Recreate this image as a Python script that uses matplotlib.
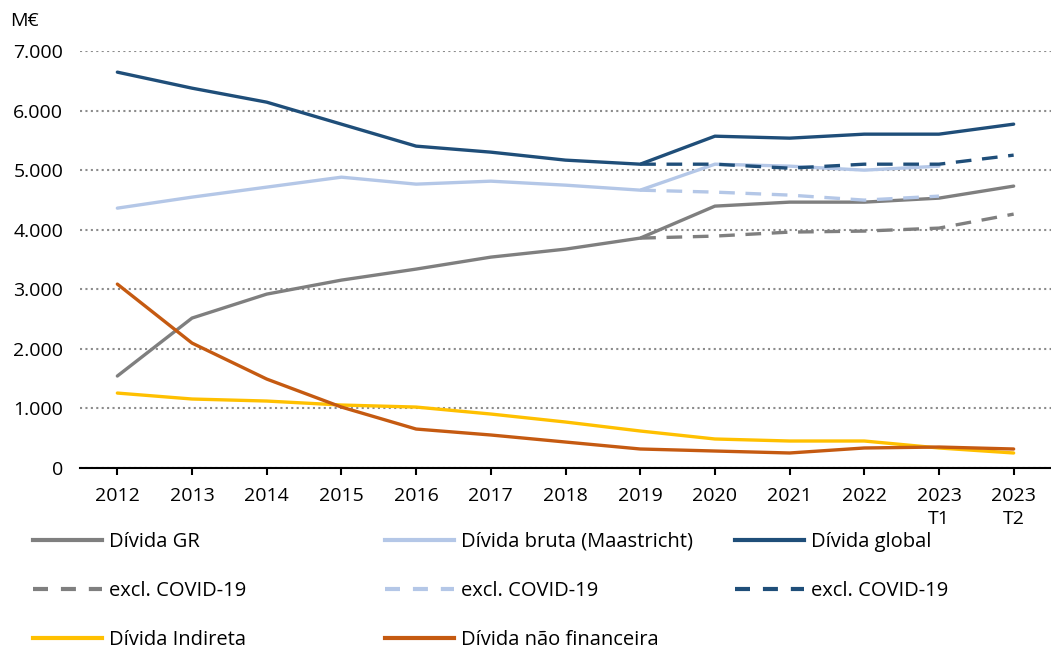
import numpy as np
import matplotlib.pyplot as plt
from matplotlib.lines import Line2D

plt.rcParams['font.family'] = ['Open Sans', 'DejaVu Sans']

categories = ["2012", "2013", "2014", "2015", "2016", "2017", "2018", "2019",
              "2020", "2021", "2022", "2023\nT1", "2023\nT2"]

divida_gr = [1544, 2517, 2919, 3154, 3339, 3540, 3674, 3859, 4396, 4463, 4463, 4530, 4732]
divida_bruta = [4362, 4547, 4715, 4882, 4765, 4815, 4748, 4664, 5100, 5067, 5000, 5067, None]
divida_global = [6645, 6376, 6141, 5772, 5403, 5302, 5168, 5100, 5570, 5537, 5604, 5604, 5772]
gr_excl = [None] * 7 + [3859, 3893, 3960, 3977, 4027, 4262]
bruta_excl = [None] * 7 + [4664, 4631, 4581, 4497, 4564, None]
global_excl = [None] * 7 + [5100, 5100, 5033, 5100, 5100, 5252]
divida_indireta = [1258, 1158, 1124, 1057, 1023, 906, 772, 621, 487, 453, 453, 336, 252]
divida_nao_fin = [3087, 2097, 1493, 1023, 654, 554, 436, 319, 285, 252, 336, 352, 319]

C_GR = "#7f7f7f"
C_BRUTA = "#b4c7e7"
C_GLOBAL = "#1f4e79"
C_IND = "#ffc000"
C_NF = "#c55a11"


def arr(v):
    return np.array([np.nan if x is None else x for x in v], dtype=float)


fig = plt.figure(figsize=(10.51, 6.5), dpi=100)
ax = fig.add_axes([80 / 1051, 1 - 468 / 650, 971 / 1051, (468 - 51) / 650])
x = np.arange(len(categories))
lw = 2.4
dash = (4.7, 3.2)

series = [
    ("Dívida GR", divida_gr, C_GR, None),
    ("excl. COVID-19", gr_excl, C_GR, dash),
    ("Dívida Indireta", divida_indireta, C_IND, None),
    ("Dívida bruta (Maastricht)", divida_bruta, C_BRUTA, None),
    ("excl. COVID-19", bruta_excl, C_BRUTA, dash),
    ("Dívida não financeira", divida_nao_fin, C_NF, None),
    ("Dívida global", divida_global, C_GLOBAL, None),
    ("excl. COVID-19", global_excl, C_GLOBAL, dash),
]

handles = []
for label, vals, color, ds in series:
    kw = dict(color=color, lw=lw, label=label, solid_capstyle="round")
    if ds is not None:
        kw.update(linestyle=(0, ds), dash_capstyle="butt")
    (h,) = ax.plot(x, arr(vals), **kw)
    handles.append(h)

ax.set_xlim(-0.5, len(categories) - 0.5)
ax.set_ylim(0, 7000)
ax.set_yticks(np.arange(0, 7001, 1000))
ax.set_yticklabels([f"{v:,}".replace(",", ".") for v in range(0, 7001, 1000)])
ax.set_xticks(x)
ax.set_xticklabels(categories, linespacing=1.3)
ax.tick_params(axis="y", length=0, pad=12, labelsize=14)
ax.tick_params(axis="x", length=5, width=1.5, pad=9, labelsize=14)
ax.yaxis.grid(True, linestyle=(0, (1, 1.6)), color="#8c8c8c", lw=1.5)
ax.set_axisbelow(True)
for s in ["top", "right", "left"]:
    ax.spines[s].set_visible(False)
ax.spines["bottom"].set_linewidth(1.5)
ax.spines["bottom"].set_zorder(5)

fig.text(10 / 1051, 1 - 21 / 650, "M€", fontsize=14, va="center", ha="left")

# legend: 3 columns x 3 rows
col_x = [33, 385, 735]
row_y = [542, 591, 640]
order = [[0, 3, 6], [1, 4, 7], [2, 5]]
for r, row in enumerate(order):
    for c, idx in enumerate(row):
        h = handles[idx]
        ls = (0, (3.6, 3.1)) if h.get_linestyle() != "-" else "-"
        proxy = Line2D([], [], color=h.get_color(), lw=3.0, linestyle=ls,
                       dash_capstyle="butt")
        fig.legend([proxy], [h.get_label()], loc="center left",
                   bbox_to_anchor=(col_x[c] / 1051, 1 - row_y[r] / 650),
                   frameon=False, fontsize=14.5, handlelength=3.45,
                   handletextpad=0.3, borderaxespad=0, borderpad=0)

fig.savefig("out.png", dpi=100)
